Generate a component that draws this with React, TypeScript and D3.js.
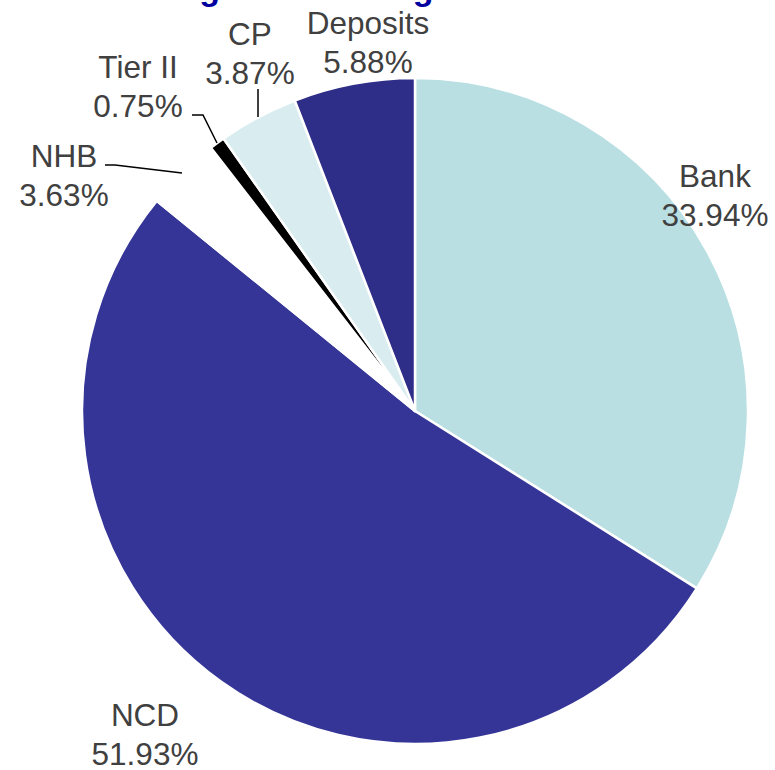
import React from "react";
import * as d3 from "d3";

const categories = ["Bank", "NCD", "NHB", "Tier II", "CP", "Deposits"];
const values = [33.94, 51.93, 3.63, 0.75, 3.87, 5.88];
const colors = ["#B9DFE3", "#353598", "#FFFFFF", "#000000", "#D9EDF0", "#2E2D88"];
const titleText = "Funding & Borrowing Mix";

// label layout (text anchor centre, first-line baseline) and leader lines
const labelPos: [number, number][] = [
  [715, 187],
  [145, 726],
  [64, 167],
  [138, 78],
  [250, 45],
  [368, 34],
];
const leaders: ([number, number][] | null)[] = [
  null,
  null,
  [[105, 165], [115, 165], [182, 173]],
  [[192, 115], [203, 115], [217, 143]],
  [[258, 89], [258, 117]],
  null,
];

const W = 775;
const H = 770;
const cx = 415;
const cy = 411;
const R = 333;

export default function App() {
  const pie = d3.pie<number>().sort(null).value((d) => d);
  const arcs = pie(values);
  const arc = d3.arc<d3.PieArcDatum<number>>().innerRadius(0).outerRadius(R);
  const line = d3.line();
  const font = "'Liberation Sans', Arial, Helvetica, sans-serif";
  return (
    <svg
      width={W}
      height={H}
      style={{ position: "absolute", left: 0, top: 0, background: "#fff" }}
    >
      <text
        x={86}
        y={-0.5}
        fontFamily={font}
        fontWeight="bold"
        fontSize={34}
        fill="#0000A0"
      >
        {titleText}
      </text>
      <g transform={`translate(${cx},${cy})`}>
        {arcs.map((a, i) => (
          <path
            key={categories[i]}
            d={arc(a) || ""}
            fill={colors[i]}
            stroke="#FFFFFF"
            strokeWidth={2.5}
            strokeLinejoin="round"
          />
        ))}
      </g>
      {leaders.map((pts, i) =>
        pts ? (
          <path
            key={"l" + i}
            d={line(pts) || ""}
            fill="none"
            stroke="#000"
            strokeWidth={1.5}
          />
        ) : null
      )}
      {categories.map((c, i) => (
        <text
          key={"t" + c}
          x={labelPos[i][0]}
          y={labelPos[i][1]}
          textAnchor="middle"
          fontFamily={font}
          fontSize={31.5}
          fill="#404040"
        >
          <tspan x={labelPos[i][0]}>{c}</tspan>
          <tspan x={labelPos[i][0]} dy={39}>
            {values[i].toFixed(2) + "%"}
          </tspan>
        </text>
      ))}
    </svg>
  );
}
